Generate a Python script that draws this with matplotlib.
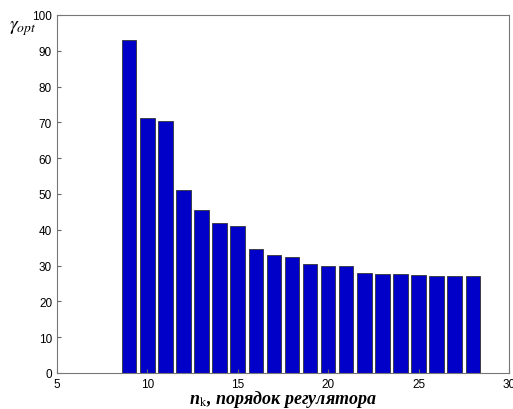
import matplotlib.pyplot as plt

# порядок регулятора и оптимальное значение gamma
orders = [9, 10, 11, 12, 13, 14, 15, 16, 17, 18, 19, 20, 21, 22, 23, 24, 25, 26, 27, 28]
gamma_opt = [93.0, 71.3, 70.5, 51.0, 45.5, 41.9, 41.1, 34.5, 33.0, 32.5,
             30.3, 30.0, 29.8, 28.0, 27.6, 27.6, 27.4, 27.2, 27.0, 27.0]
xticks = [5, 10, 15, 20, 25, 30]
yticks = [0, 10, 20, 30, 40, 50, 60, 70, 80, 90, 100]

plt.rcParams['font.family'] = 'Liberation Sans'
plt.rcParams['mathtext.fontset'] = 'stix'

fig = plt.figure(figsize=(5.13, 4.10), dpi=100)
ax = fig.add_axes([0.111, 0.088, 0.881, 0.873])

ax.bar(orders, gamma_opt, width=0.8, color='#0000c8', edgecolor='#333333', linewidth=0.6)

ax.set_xlim(5, 30)
ax.set_ylim(0, 100)
ax.set_xticks(xticks)
ax.set_yticks(yticks)
ax.tick_params(direction='in', length=3, labelsize=8.5, colors='#666666', labelcolor='black')
for s in ax.spines.values():
    s.set_color('#777777')
    s.set_linewidth(0.8)

fig.text(0.018, 0.908, r'$\gamma_{opt}$', fontsize=14, ha='left', va='bottom')
fig.text(0.552, 0.014, r'n$_{\mathrm{k}}$, порядок регулятора', fontsize=13,
         family='Liberation Serif', weight='bold', style='italic', ha='center', va='baseline')

fig.savefig('out.png', dpi=100)
